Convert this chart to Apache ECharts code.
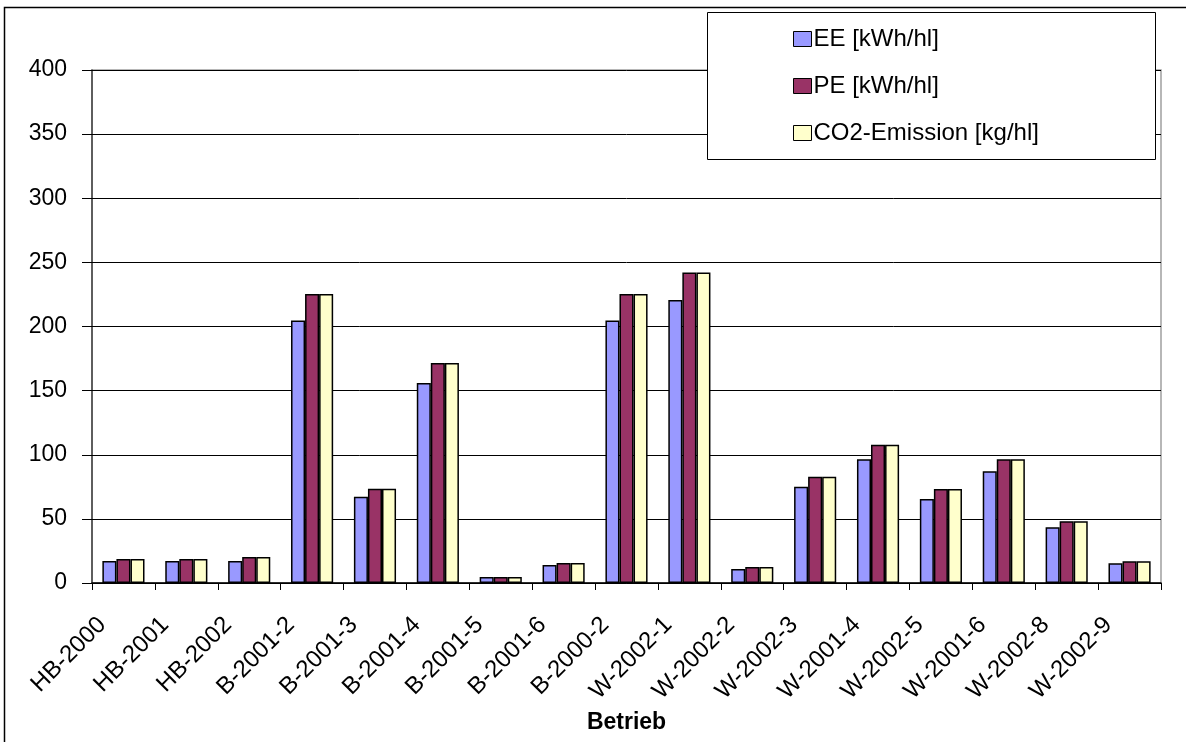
<!DOCTYPE html>
<html><head><meta charset="utf-8">
<script src="https://cdn.jsdelivr.net/npm/echarts@6/dist/echarts.min.js"></script>
<style>html,body{margin:0;padding:0;background:#fff}#c{width:1186px;height:742px}</style>
</head><body><div id="c"></div>
<script>
const categories = ['HB-2000','HB-2001','HB-2002','B-2001-2','B-2001-3','B-2001-4','B-2001-5','B-2001-6','B-2000-2','W-2002-1','W-2002-2','W-2002-3','W-2001-4','W-2002-5','W-2001-6','W-2002-8','W-2002-9'];
const seriesNames = ['EE [kWh/hl]','PE [kWh/hl]','CO2-Emission [kg/hl]'];
const eeValues  = [17.2,17.2,17.2,204.7,67.2,156,4.7,14,204.7,220.6,10.9,75,96.4,65.4,87.2,43.5,15.4];
const peValues  = [18.7,18.7,20.3,225.3,73.4,171.6,4.7,15.6,225.3,242.2,12.5,82.8,107.8,73.2,96.4,48.2,16.9];
const co2Values = [18.7,18.7,20.3,225.3,73.4,171.6,4.7,15.6,225.3,242.2,12.5,82.8,107.8,73.2,96.4,48.2,16.9];
const xAxisTitle = 'Betrieb';
const colors = ['#9999FF','#993366','#FFFFCC'];

const font = '"Liberation Sans", Arial, sans-serif';
const chart = echarts.init(document.getElementById('c'), null, {renderer:'canvas'});
const mk = (name, data, color) => ({
  name, type:'bar', data, barGap:'0%', barCategoryGap:'33%',
  itemStyle:{color, borderColor:'#000', borderWidth:1.5},
  animation:false
});
chart.setOption({
  animation:false,
  textStyle:{fontFamily:font},
  grid:{left:92, right:25, top:70, bottom:159, show:true, borderColor:'#a0a0a0', borderWidth:1.5},
  graphic:[
    {type:'rect', shape:{x:4.5,y:7.5,width:1200,height:760}, style:{fill:null, stroke:'#000', lineWidth:1.5}, z:-1},
    {type:'rect', shape:{x:707.5,y:12.5,width:448,height:147}, style:{fill:'#fff', stroke:'#000', lineWidth:1}, z:50}
  ],
  legend:{
    orient:'vertical', left:788, top:22, z:60,
    itemWidth:18, itemHeight:15, itemGap:23,
    icon:'rect',
    textStyle:{fontSize:24, color:'#000', fontFamily:font, padding:[0,0,0,-3]},
    itemStyle:{borderColor:'#000', borderWidth:1}
  },
  xAxis:{
    type:'category', data:categories,
    name:xAxisTitle, nameLocation:'middle', nameGap:125,
    nameTextStyle:{fontSize:23, fontWeight:'bold', color:'#000', fontFamily:font},
    axisLine:{lineStyle:{color:'#000', width:1.5}},
    axisTick:{show:true, length:7, lineStyle:{color:'#000'}},
    axisLabel:{rotate:45, fontSize:24, color:'#000', margin:17, padding:[0,30,0,0], fontFamily:font}
  },
  yAxis:[{
    type:'value', min:0, max:400, interval:50,
    axisLine:{show:true, lineStyle:{color:'#404040', width:1.5}},
    axisTick:{show:true, length:10, lineStyle:{color:'#000'}},
    axisLabel:{fontSize:23, color:'#000', margin:25, fontFamily:font},
    splitLine:{lineStyle:{color:'#000', width:1}}
  },{
    type:'value', min:0, max:400, interval:50, position:'left',
    axisLine:{show:false},
    axisTick:{show:true, inside:true, length:8, lineStyle:{color:'#000'}},
    axisLabel:{show:false},
    splitLine:{show:false}
  }],
  series:[mk(seriesNames[0], eeValues, colors[0]), mk(seriesNames[1], peValues, colors[1]), mk(seriesNames[2], co2Values, colors[2])]
});
</script></body></html>
